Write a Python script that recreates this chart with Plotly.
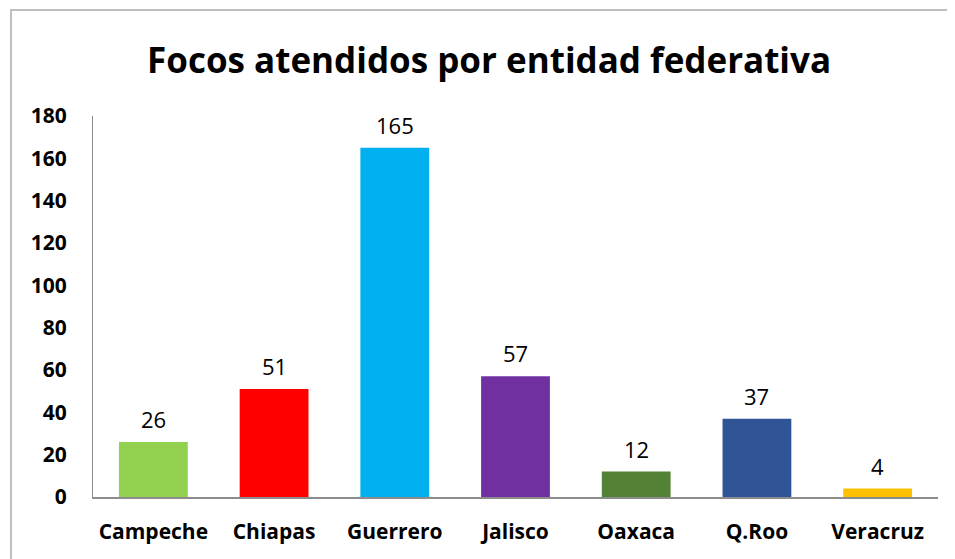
import plotly.graph_objects as go

categories = ["Campeche", "Chiapas", "Guerrero", "Jalisco", "Oaxaca", "Q.Roo", "Veracruz"]
values = [26, 51, 165, 57, 12, 37, 4]
colors = ["#92D050", "#FF0000", "#00B0F0", "#7030A0", "#538135", "#2F5597", "#FFC000"]
y_ticks = [0, 20, 40, 60, 80, 100, 120, 140, 160, 180]

FONT = "Open Sans"

fig = go.Figure()
fig.add_trace(go.Bar(x=categories, y=values, marker=dict(color=colors, line=dict(width=0)),
                     showlegend=False, hoverinfo="x+y"))

for c, v in zip(categories, values):
    fig.add_annotation(x=c, y=v, text=str(v), showarrow=False, yanchor="bottom", yshift=6,
                       font=dict(family=FONT, size=22, color="#000000"))

fig.add_shape(type="rect", xref="paper", yref="paper", x0=-0.097, x1=1.05, y0=-0.25, y1=1.278,
              line=dict(color="#BFBFBF", width=2), layer="below")

fig.update_layout(
    width=947, height=551,
    margin=dict(l=85, r=17, t=108, b=62),
    paper_bgcolor="white", plot_bgcolor="white",
    bargap=0.43,
    title=dict(text="Focos atendidos por entidad federativa", x=0.508, xanchor="center",
               y=0.905, yanchor="middle",
               font=dict(family=FONT, size=35, color="#000000", weight="bold")),
    xaxis=dict(showgrid=False, showline=True, linecolor="#8C8C8C", linewidth=1.5, ticks="",
               tickfont=dict(family=FONT, size=21, color="#000000", weight="bold"),
               ticklabelstandoff=15),
    yaxis=dict(range=[0, 180], tickvals=y_ticks, showgrid=False, zeroline=False, showline=True,
               linecolor="#8C8C8C", linewidth=1, ticks="",
               tickfont=dict(family=FONT, size=21, color="#000000", weight="bold"),
               ticklabelstandoff=21),
)

fig.write_html("out.html")
